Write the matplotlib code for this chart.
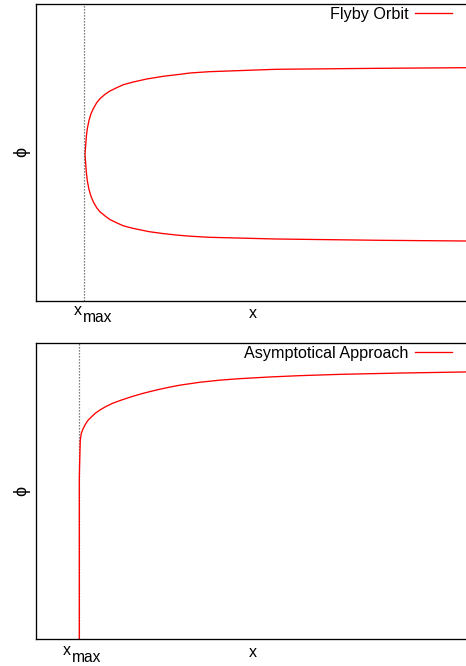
import matplotlib
matplotlib.use("Agg")
import matplotlib.pyplot as plt
from matplotlib.transforms import blended_transform_factory

plt.rcParams['font.family'] = ['Liberation Sans', 'DejaVu Sans']
plt.rcParams['font.size'] = 11

# ---- Data ----
# Flyby orbit: upper branch (x, phi), starting at the turning point
flyby_upper_x = [49.0, 49.7, 50.3, 51.3, 53.0, 55.0, 57.3, 60.7, 64.0, 69.0, 74.0,
                 80.7, 87.3, 97.3, 110.7, 127.3, 144.0, 154.0, 173.0, 240.0, 344.0,
                 430.0, 439.0]
flyby_upper_phi = [0.0, 9.0, 17.3, 25.6, 34.0, 40.6, 45.6, 51.6, 55.6, 60.0, 63.3,
                   66.6, 69.6, 72.3, 75.3, 78.0, 80.0, 81.3, 82.6, 85.0, 86.0,
                   86.6, 86.7]
# Flyby orbit: lower branch
flyby_lower_x = [49.0, 49.7, 50.3, 51.3, 53.0, 55.0, 57.3, 60.7, 64.0, 70.0, 74.0,
                 81.7, 87.3, 96.7, 113.3, 127.3, 140.0, 154.0, 173.3, 240.0, 344.0,
                 430.0, 439.0]
flyby_lower_phi = [0.0, -9.5, -17.5, -26.5, -35.2, -42.0, -47.5, -53.5, -57.5, -62.4,
                   -65.3, -69.0, -71.5, -74.0, -77.4, -79.3, -80.7, -81.9, -83.0,
                   -84.7, -86.0, -86.7, -86.8]
flyby_xmax = 47.7

# Asymptotical approach
approach_x = [43.3, 43.3, 43.3, 43.6, 44.0, 44.3, 45.3, 47.3, 50.0, 52.3, 55.7, 59.3,
              64.0, 69.7, 76.7, 85.7, 95.7, 107.3, 120.7, 134.0, 144.0, 164.0, 184.0,
              204.0, 234.0, 264.0, 304.0, 364.0, 430.0, 439.0]
approach_phi = [-152.0, -69.3, 10.8, 25.8, 40.8, 50.8, 57.5, 62.5, 67.5, 70.8, 74.1,
                77.5, 80.8, 84.1, 87.5, 90.8, 94.1, 97.5, 100.8, 103.7, 105.6, 108.5,
                110.6, 112.1, 113.8, 115.1, 116.4, 117.7, 118.8, 118.9]
approach_xmax = 42.5

labels = ["Flyby Orbit", "Asymptotical Approach"]

# ---- Figure ----
W, H = 466, 666
fig = plt.figure(figsize=(W / 100, H / 100), dpi=100)

def add_axes(left_px, top_px, right_px, bottom_px):
    return fig.add_axes([left_px / W, 1 - bottom_px / H,
                         (right_px - left_px) / W, (bottom_px - top_px) / H])

ax1 = add_axes(36, 3.5, 470, 300.5)
ax2 = add_axes(36, 342.5, 470, 639.2)

red = '#ff0000'
dot = (0, (1.0, 1.4))

# top panel
x_path = flyby_upper_x[::-1] + flyby_lower_x[1:]
p_path = flyby_upper_phi[::-1] + flyby_lower_phi[1:]
ax1.plot(x_path, p_path, color=red, lw=0.95, label=labels[0])
ax1.axvline(flyby_xmax, color='#555555', lw=0.9, ls=dot)
ax1.set_xlim(0, 434)
ax1.set_ylim(-146.2, 150.8)

# bottom panel
ax2.axvline(approach_xmax, color='#555555', lw=0.9, ls=dot)
ax2.plot(approach_x, approach_phi, color=red, lw=0.95, label=labels[1])
ax2.set_xlim(0, 434)
ax2.set_ylim(-148.45, 148.25)

# (axes, height px, axis bottom px, x-left, x-baseline, max-left, max-baseline, legend y)
specs = [(ax1, 297.0, 300.5, 74.0, 315.0, 83.3, 321.7, 14.3),
         (ax2, 296.7, 639.2, 62.7, 655.0, 71.7, 661.7, 353.3)]
for ax, hpx, bot, xl, xb, ml, mb, legend_y in specs:
    ax.set_xticks([])
    ax.set_yticks([])
    for s in ax.spines.values():
        s.set_linewidth(0.95)
        s.set_color('black')
    ax.spines['right'].set_visible(False)
    bt = blended_transform_factory(ax.transData, ax.transAxes)
    ax.text(xl - 36, -(xb - bot) / hpx, 'x', transform=bt,
            ha='left', va='baseline', fontsize=11.5)
    ax.text(ml - 36, -(mb - bot) / hpx, 'max', transform=bt,
            ha='left', va='baseline', fontsize=11.2)
    ax.text(0.5, -17.8 / hpx, 'x', transform=ax.transAxes,
            ha='center', va='baseline', fontsize=11.5)
    ax.text(-14 / 434, 0.5, '\u03d5', transform=ax.transAxes, rotation=90,
            ha='center', va='center', fontsize=13)
    ax.legend(loc='center right', bbox_to_anchor=(452 / W, 1 - legend_y / H),
              bbox_transform=fig.transFigure, frameon=False, markerfirst=False,
              borderpad=0, borderaxespad=0, handlelength=2.3,
              handletextpad=0.4, fontsize=11.6)

fig.savefig('out.png', dpi=100)
